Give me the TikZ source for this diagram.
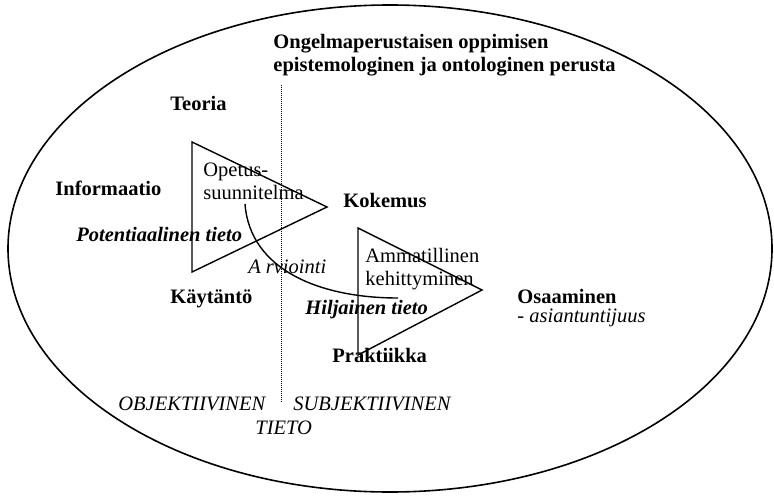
\documentclass[tikz,border=0pt]{standalone}
\usepackage{fontspec}
\setmainfont{Liberation Serif}
\usepackage{tikz}
\usetikzlibrary{positioning}

\begin{document}
\begin{tikzpicture}[
      %% one unit = one pixel of the source figure, y grows downwards
      x=0.5pt, y=-0.5pt,
      %% Outline shapes
      frame/.style={draw=black, line width=0.8pt},
      tri/.style={draw=black, line width=0.7pt, line join=miter},
      divider/.style={draw=black, line width=0.5pt,
                      dash pattern=on 0.5pt off 0.5pt},
      arccurve/.style={draw=black, line width=0.7pt},
      %% Text styles (anchored on the baseline of the last line)
      lbl/.style={inner sep=0pt, anchor=base west, align=left,
                  font=\fontsize{10.25}{11.5}\selectfont},
      key/.style={lbl, font=\fontsize{10.25}{11.5}\selectfont\bfseries},
      keyit/.style={lbl, font=\fontsize{10.25}{11.5}\selectfont\bfseries\itshape},
      side/.style={lbl, font=\fontsize{10.25}{11.5}\selectfont\itshape},
    ]

    \useasboundingbox (0,0) rectangle (774,497);

    %% ── Outer ellipse and divider ─────────────────────────────────────────
    \draw[frame] (390,248.5) ellipse [x radius=382, y radius=243.5];

    \coordinate (divtop) at (281,85);
    \coordinate (divbot) at (281,403);
    \draw[divider] (divtop) -- (divbot);

    %% ── Title ─────────────────────────────────────────────────────────────
    \node[key] (title) at (273,72)
      {Ongelmaperustaisen oppimisen\\
       epistemologinen ja ontologinen perusta};

    %% ── Left triangle (curriculum) ────────────────────────────────────────
    \coordinate (ltop) at (192,142);
    \coordinate (lbot) at (192,272);
    \coordinate (ltip) at (327,207);
    \draw[tri] (ltop) -- (ltip) -- (lbot) -- cycle;

    \node[key]   (teoria)   at (170,111) {Teoria};
    \node[key]   (info)     at (55,195)  {Informaatio};
    \node[keyit] (potent)   at (76,241)  {Potentiaalinen tieto};
    \node[key]   (kaytanto) at (170,303) {Käytäntö};
    \node[lbl]   (opetus)   at (203,199) {Opetus-\\suunnitelma};
    \node[key]   (kokemus)  at (343,207) {Kokemus};

    %% ── Right triangle (professional growth) ──────────────────────────────
    \coordinate (rtop) at (358,228);
    \coordinate (rbot) at (358,355);
    \coordinate (rtip) at (482,290);
    \draw[tri] (rtop) -- (rtip) -- (rbot) -- cycle;

    \node[lbl]   (ammat)      at (365,285) {Ammatillinen\\kehittyminen};
    \node[keyit] (hiljai)     at (305,314) {Hiljainen tieto};
    \node[key]   (praktiikka) at (332,362) {Praktiikka};
    \node[key]   (osaam)      at (517,322)
      {Osaaminen\\[-2pt]\mdseries - \itshape asiantuntijuus};

    %% ── Evaluation curve ──────────────────────────────────────────────────
    \coordinate (arvstart) at (245,204);
    \coordinate (arvend)   at (398,298);
    \draw[arccurve] (arvstart) .. controls (250,270) and (320,298) .. (arvend);
    \node[side]  (arvio)   at (248,273) {A\kern2.5pt rviointi};

    %% ── Bottom captions ───────────────────────────────────────────────────
    \node[side] (objekt)  at (118,410) {OBJEKTIIVINEN};
    \node[side] (subjekt) at (293,410) {SUBJEKTIIVINEN};
    \node[side] (tieto)   at (255,434) {TIETO};
  \end{tikzpicture}
\end{document}
